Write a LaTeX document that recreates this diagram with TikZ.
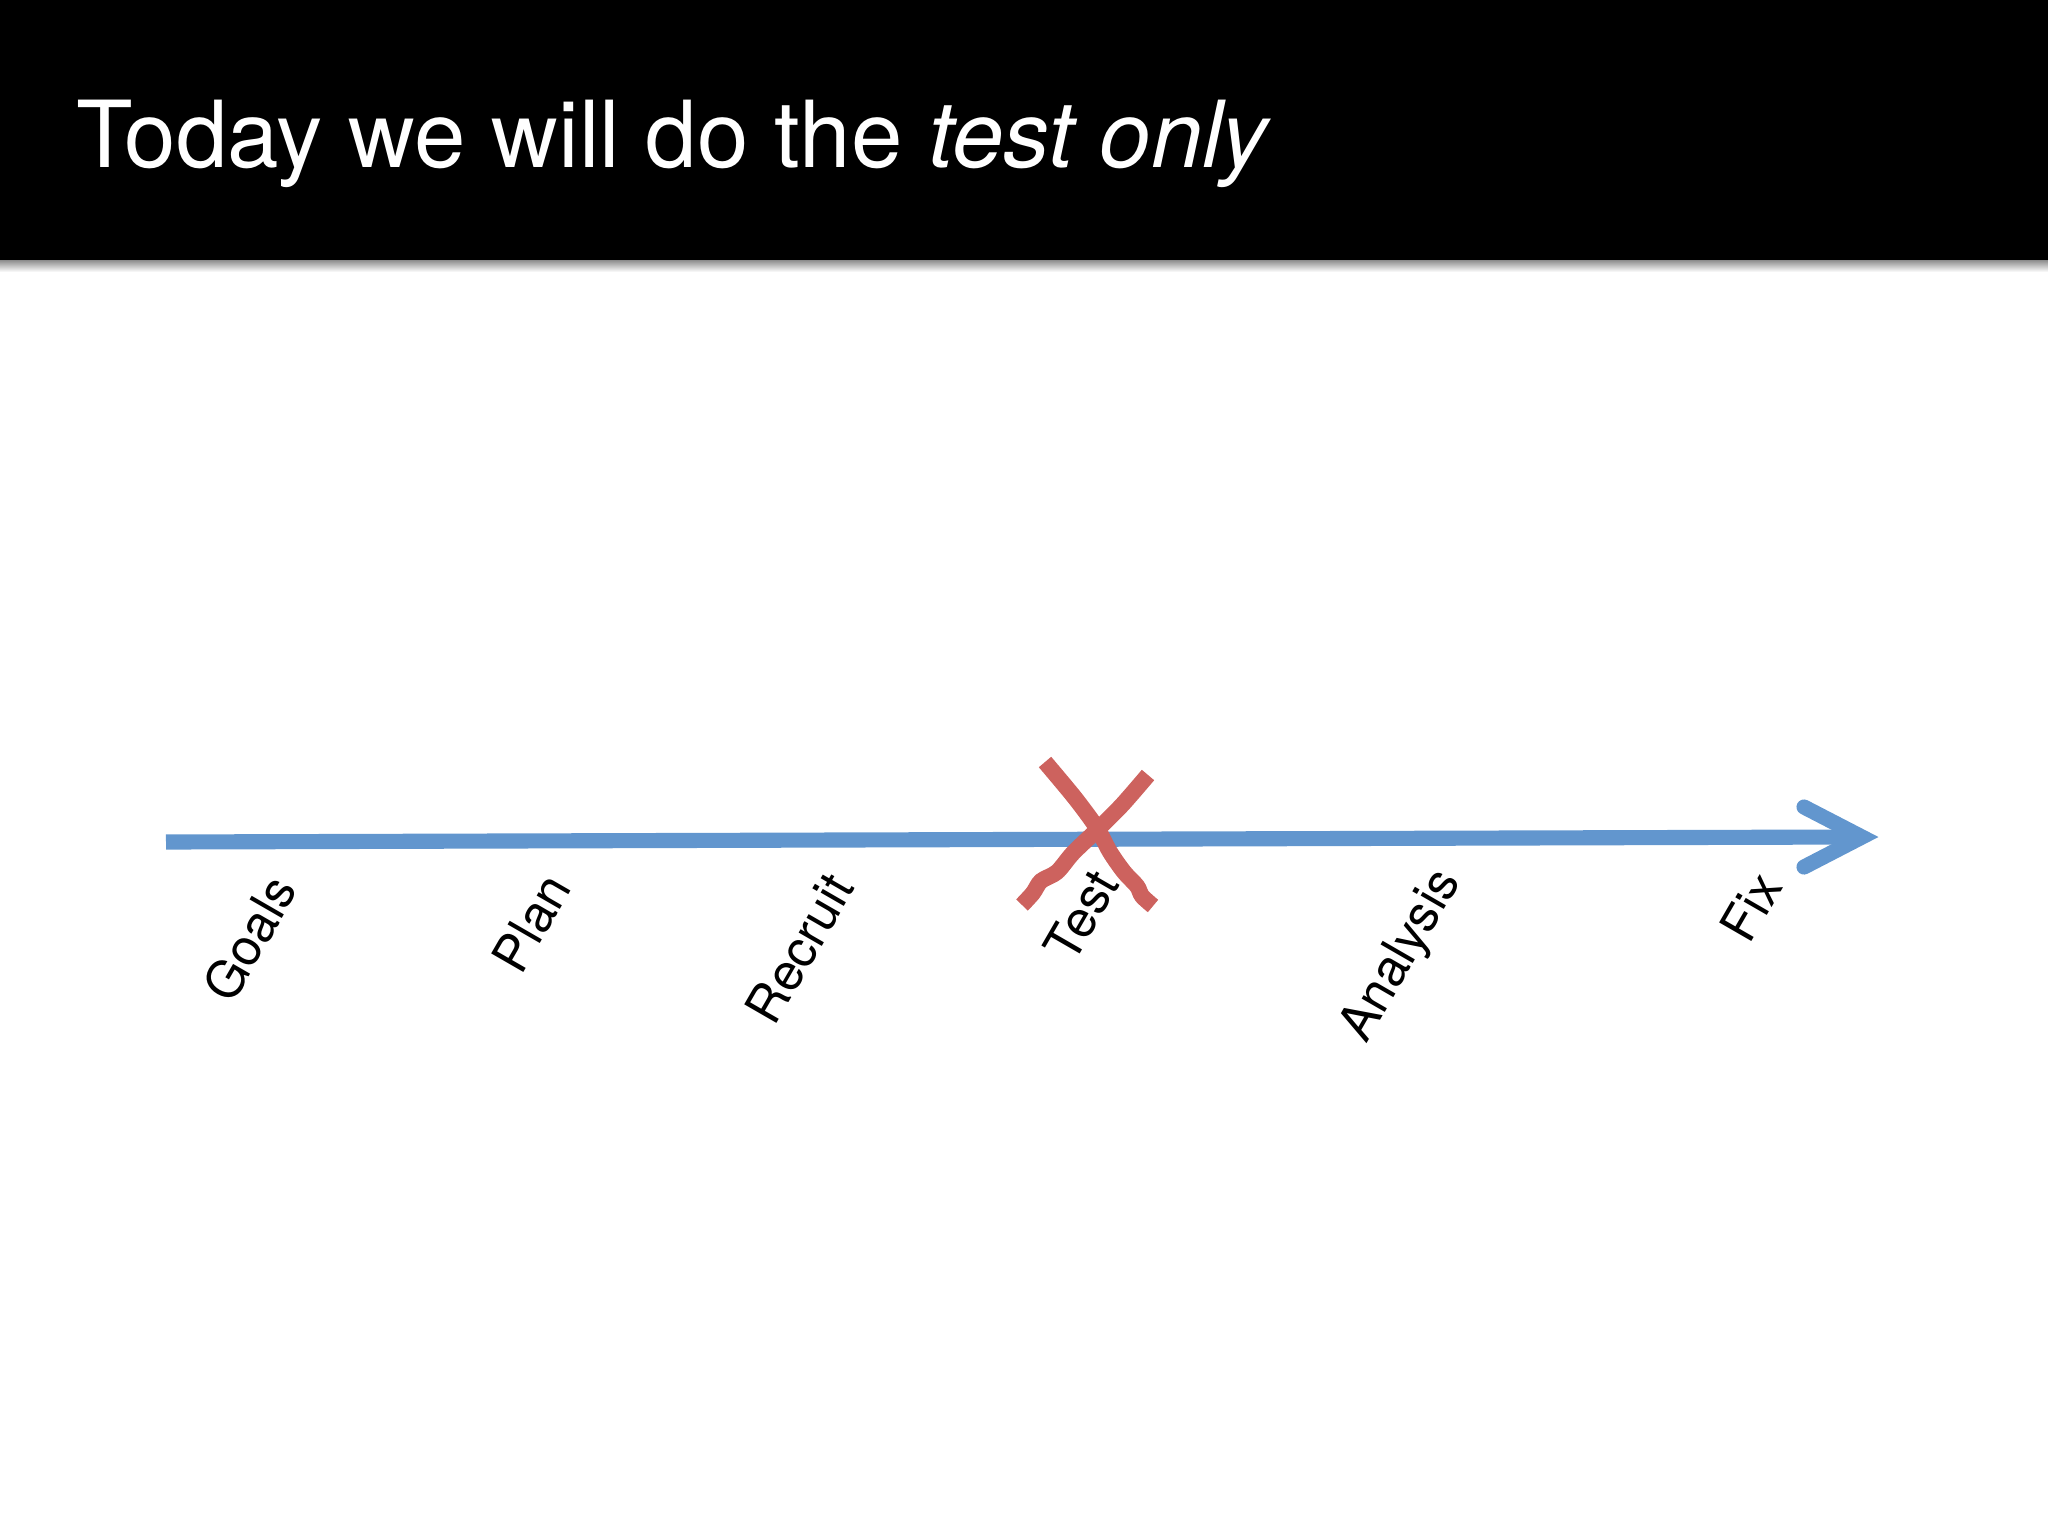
\documentclass[tikz,border=0pt]{standalone}
\usepackage{fontspec}
\setmainfont{TeX Gyre Heros}
\definecolor{lan}{RGB}{98,150,206}
\definecolor{hong}{RGB}{205,98,94}
\tikzset{
    buzhou/.style={rotate=60, anchor=east, inner sep=0pt, font=\fontsize{14.5}{16}\selectfont},
    zhou/.style={color=lan, line width=4.3pt},
    cha/.style={color=hong, line width=4.6pt},
}

\begin{document}
\begin{tikzpicture}[x=0.01cm, y=-0.01cm]
	\useasboundingbox (0,0) rectangle (2048,1536);
	% title bar
	\fill[black] (0,0) rectangle (2048,260);
	\shade[top color=black!45, bottom color=white] (0,260) rectangle (2048,272);
	\node[anchor=base west, text=white, inner sep=0pt, font=\fontsize{26.3}{30}\selectfont] (title) at (76,167) {Today we will do the \textit{test only}};
	% timeline
	\coordinate (start) at (166,842);
	\coordinate (end) at (1852,837);
	\coordinate (tip) at (1862,837);
	\coordinate (barbup) at (1804,807);
	\coordinate (barbdown) at (1804,867);
	\draw[zhou] (start) -- (end);
	\draw[zhou, line cap=round, line join=miter] (barbup) -- (tip) -- (barbdown);
	\node[buzhou] (goals) at (283,880) {Goals};
	\node[buzhou] (plan) at (557,878) {Plan};
	\node[buzhou] (recruit) at (840,878) {Recruit};
	\node[buzhou] (test) at (1105,874) {Test};
	\node[buzhou] (analysis) at (1450,874) {Analysis};
	\node[buzhou] (fix) at (1768,877) {Fix};
	% cross over the test
	\draw[cha] plot[smooth] coordinates {(1045,762) (1075,798) (1097,828) (1110,852) (1124,872) (1137,886) (1142,896) (1153,906)};
	\draw[cha] plot[smooth] coordinates {(1148,775) (1122,805) (1097,830) (1073,853) (1057,872) (1041,881) (1033,893) (1022,905)};
\end{tikzpicture}
\end{document}
